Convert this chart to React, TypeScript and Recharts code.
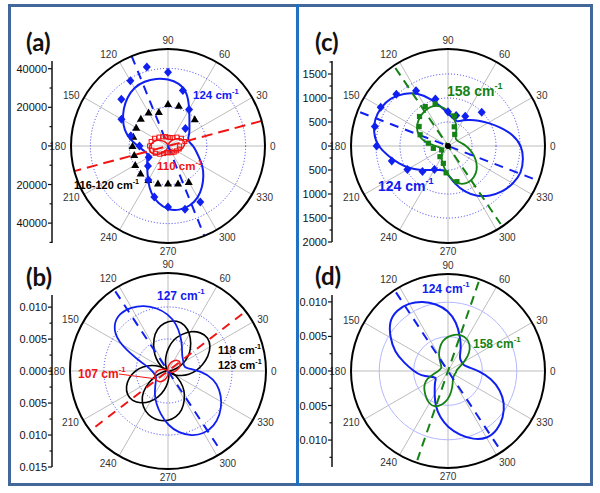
import React from "react";
import {
  RadarChart, Radar, PolarGrid, PolarAngleAxis, PolarRadiusAxis, Curve,
  LineChart, XAxis, YAxis,
} from "recharts";

// eslint-disable-next-line @typescript-eslint/no-explicit-any
type Any = any;

const FONT = '"Liberation Sans", Arial, sans-serif';
const BLUE = "#1020f0";
const RED = "#f01414";
const GREEN = "#148214";
const BLACK = "#000000";

const FIT_ANGLES = [0, 10, 20, 30, 40, 50, 60, 70, 80, 90, 100, 110, 120, 130, 140, 150, 160, 170,
  180, 190, 200, 210, 220, 230, 240, 250, 260, 270, 280, 290, 300, 310, 320, 330, 340, 350];
const SPOKE_ANGLES = [0, 30, 60, 90, 120, 150, 180, 210, 240, 270, 300, 330];

// ---- panel (a) ----
const A_BLUE_FIT = [13000, 11200, 10800, 12800, 14400, 17200, 22000, 29300, 33000, 34500, 35400, 35500,
  35000, 32700, 30000, 27000, 24000, 20000, 15500, 13000, 11000, 12400, 14000, 16600,
  20700, 26000, 30000, 33000, 33700, 33000, 31000, 27600, 24000, 20700, 17000, 14700];
const A_RED_FIT = [8300, 9000, 8600, 7500, 6000, 4400, 2900, 1800, 1000, 800, 800, 1200,
  2000, 3200, 4600, 6000, 7400, 8500, 9500, 10000, 9600, 8500, 6800, 5000,
  3400, 2000, 1200, 800, 800, 1000, 1600, 2600, 3800, 5200, 6500, 7600];
const A_DIAMOND_ANGLES = [45, 60, 75, 90, 105, 120, 135, 150, 165, 180, 210, 225, 240, 255, 270, 285, 300];
const A_DIAMONDS = [12700, 21700, 29600, 38000, 42200, 38800, 34000, 27700, 19900, 14700, 11500, 14600,
  20200, 27200, 31400, 33800, 33300];
const A_TRIANGLE_ANGLES = [45, 75, 90, 105, 120, 135, 150, 165, 180, 195, 210, 225, 240, 255, 270, 285, 300];
const A_TRIANGLES = [19500, 21500, 21600, 18200, 20000, 19800, 18900, 18500, 18300, 18000, 19500, 20000,
  20300, 20000, 19300, 20000, 21400];
const A_SQUARE_ANGLES = [0, 15, 30, 45, 60, 75, 90, 105, 120, 135, 150, 165, 180, 195, 210, 225, 240, 255,
  270, 285, 300, 315, 330, 345];
const A_RED_SQUARES = [6000, 9000, 8000, 6500, 5000, 4500, 4500, 5000, 5500, 6500, 8000, 9000,
  9500, 8500, 7500, 6000, 4500, 3500, 3500, 3500, 4000, 4500, 5000, 6000];
const A_BLUE_AXIS = [112, 292];
const A_RED_AXIS = [15, 195];
const A_AXIS_R = [50000, 50000];
const A_RINGS = [20000, 40000];
const A_SCALE_DOMAIN = [-50300, 44000];
const A_SCALE_TICKS = [-50000, -40000, -30000, -20000, -10000, 0, 10000, 20000, 30000, 40000];
const A_SCALE_LABELS = [-40000, -20000, 0, 20000, 40000];

// ---- panel (b) ----
const B_BLUE_FIT = [0.0052, 0.0027, 0.0026, 0.0028, 0.0030, 0.0034, 0.0044, 0.0058, 0.0075, 0.0089, 0.0100, 0.0109,
  0.0115, 0.0118, 0.0112, 0.0092, 0.0050, 0.0030, 0.0025, 0.0022, 0.0021, 0.0021, 0.0025, 0.0031,
  0.0042, 0.0054, 0.0068, 0.0085, 0.0098, 0.0108, 0.0113, 0.0112, 0.0106, 0.0097, 0.0086, 0.0073];
const B_BLACK_118 = [0.0003, 0.0009, 0.0020, 0.0032, 0.0045, 0.0056, 0.0068, 0.0077, 0.0080, 0.0078, 0.0072, 0.0062,
  0.0046, 0.0033, 0.0020, 0.0010, 0.0004, 0.0002, 0.0003, 0.0009, 0.0020, 0.0034, 0.0052, 0.0064,
  0.0072, 0.0077, 0.0079, 0.0078, 0.0073, 0.0065, 0.0052, 0.0040, 0.0026, 0.0014, 0.0006, 0.0002];
const B_BLACK_123 = [0.0044, 0.0055, 0.0067, 0.0077, 0.0082, 0.0079, 0.0072, 0.0061, 0.0050, 0.0036, 0.0022, 0.0012,
  0.0005, 0.0002, 0.0006, 0.0015, 0.0027, 0.0040, 0.0052, 0.0062, 0.0070, 0.0074, 0.0073, 0.0066,
  0.0056, 0.0044, 0.0030, 0.0018, 0.0009, 0.0003, 0.0001, 0.0002, 0.0006, 0.0013, 0.0022, 0.0033];
const B_RED_FIT = [0.0012, 0.0016, 0.0020, 0.0022, 0.0024, 0.0022, 0.0019, 0.0015, 0.0010, 0.0006, 0.0003, 0.0001,
  0.0001, 0.0001, 0.0002, 0.0005, 0.0009, 0.0013, 0.0017, 0.0020, 0.0022, 0.0024, 0.0023, 0.0022,
  0.0019, 0.0015, 0.0010, 0.0006, 0.0003, 0.0001, 0.0001, 0.0001, 0.0002, 0.0004, 0.0007, 0.0009];
const B_BLUE_AXIS = [123.5, 303.5];
const B_RED_AXIS = [37.5, 217.5];
const B_BLUE_AXIS_R = [0.0149, 0.0149];
const B_RED_AXIS_R = [0.0146, 0.0146];
const B_RINGS = [0.005, 0.01];
const B_SCALE_DOMAIN = [-0.015, 0.0119];
const B_SCALE_TICKS = [-0.015, -0.0125, -0.01, -0.0075, -0.005, -0.0025, 0, 0.0025, 0.005, 0.0075, 0.01];
const B_SCALE_LABELS = [-0.015, -0.01, -0.005, 0, 0.005, 0.01];

// ---- panel (c) ----
const C_BLUE_FIT = [1540, 1375, 1155, 965, 826, 708, 625, 530, 585, 680, 830, 1045,
  1285, 1430, 1565, 1615, 1630, 1575, 1472, 1250, 1082, 925, 778, 653,
  577, 532, 505, 590, 800, 1015, 1215, 1360, 1485, 1570, 1630, 1595];
const C_GREEN_FIT = [380, 300, 250, 225, 215, 240, 350, 500, 625, 740, 850, 895,
  890, 860, 815, 760, 655, 510, 260, 170, 140, 130, 150, 200,
  270, 360, 460, 605, 770, 855, 875, 850, 790, 690, 580, 470];
const C_DIAMOND_ANGLES = [45, 60, 75, 90, 105, 120, 135, 150, 165, 180, 195, 210, 225, 240];
const C_DIAMONDS = [993, 718, 657, 715, 1014, 1331, 1521, 1618, 1577, 1485, 1212, 977, 751, 566];
const C_SQUARE_ANGLES = [60, 72, 78, 107, 120, 134, 146, 158, 172, 189, 212, 233, 255, 266, 284];
const C_GREEN_SQUARES = [280, 420, 640, 916, 948, 854, 726, 626, 414, 309, 156, 278, 374, 560, 765];
const C_ORIGIN_ANGLE = [0];
const C_ORIGIN = [0];
const C_BLUE_AXIS = [159, 339];
const C_GREEN_AXIS = [124, 304];
const C_AXIS_R = [1960, 1960];
const C_RINGS = [500, 1000, 1500];
const C_SCALE_DOMAIN = [-2000, 1771];
const C_SCALE_TICKS = [-2000, -1750, -1500, -1250, -1000, -750, -500, -250, 0, 250, 500, 750, 1000, 1250, 1500, 1750];
const C_SCALE_LABELS = [-2000, -1500, -1000, -500, 0, 500, 1000, 1500];

// ---- panel (d) ----
const D_BLUE_FIT = [0.0045, 0.0031, 0.0024, 0.0024, 0.0024, 0.0026, 0.0038, 0.0052, 0.0072, 0.0088, 0.0099, 0.0108,
  0.0114, 0.0116, 0.0112, 0.0097, 0.0083, 0.0064, 0.0050, 0.0040, 0.0025, 0.0019, 0.0025, 0.0030,
  0.0039, 0.0054, 0.0068, 0.0082, 0.0094, 0.0106, 0.0114, 0.0112, 0.0105, 0.0095, 0.0081, 0.0064];
const D_GREEN_FIT = [0.0012, 0.0014, 0.0018, 0.0028, 0.0041, 0.0050, 0.0055, 0.0056, 0.0054, 0.0050, 0.0045, 0.0036,
  0.0027, 0.0018, 0.0013, 0.0011, 0.0011, 0.0012, 0.0014, 0.0020, 0.0033, 0.0040, 0.0045, 0.0050,
  0.0055, 0.0056, 0.0050, 0.0042, 0.0030, 0.0020, 0.0014, 0.0012, 0.0011, 0.0011, 0.0011, 0.0012];
const D_BLUE_AXIS = [123.5, 303.5];
const D_GREEN_AXIS = [71, 251];
const D_AXIS_R = [0.0137, 0.0137];
const D_RINGS = [0.005, 0.01];
const D_SCALE_DOMAIN = [-0.0139, 0.011];
const D_SCALE_TICKS = [-0.0125, -0.01, -0.0075, -0.005, -0.0025, 0, 0.0025, 0.005, 0.0075, 0.01];
const D_SCALE_LABELS = [-0.01, -0.005, 0, 0.005, 0.01];

type Layer = {
  key: string;
  angles: number[];
  values: number[];
  color: string;
  kind: "fit" | "axis" | "mark";
  width?: number;
  dash?: string;
  mark?: "diamond" | "triangle" | "square" | "open" | "dot";
};

function buildRows(layers: Layer[]) {
  const map = new Map<number, Record<string, number>>();
  layers.forEach((l) => l.angles.forEach((a, i) => {
    const row = map.get(a) ?? { angle: a };
    row[l.key] = l.values[i];
    map.set(a, row);
  }));
  return [...map.values()].sort((p, q) => p.angle - q.angle);
}

// a point belongs to the series only if its row carries a value for that key
const hasValue = (q: Any, key: string) => {
  const row = q?.payload?.payload ?? q?.payload;
  if (row && typeof row === "object" && "angle" in row) return row[key] != null;
  return q?.value != null;
};

function markRenderer(kind: Layer["mark"], color: string, key: string) {
  return (p: Any) => {
    if (!hasValue(p, key) || !Number.isFinite(p.cx) || !Number.isFinite(p.cy)) return <g />;
    const { cx, cy } = p;
    if (kind === "diamond")
      return <path d={`M${cx},${cy - 4.5}L${cx + 4},${cy}L${cx},${cy + 4.5}L${cx - 4},${cy}Z`} fill={color} />;
    if (kind === "triangle")
      return <path d={`M${cx},${cy - 4}L${cx + 4},${cy + 3}L${cx - 4},${cy + 3}Z`} fill={color} />;
    if (kind === "square")
      return <rect x={cx - 2.6} y={cy - 2.6} width={5.2} height={5.2} fill={color} />;
    if (kind === "open")
      return <rect x={cx - 2} y={cy - 2} width={4} height={4} fill="none" stroke={color} strokeWidth={1} />;
    return <circle cx={cx} cy={cy} r={3} fill={color} />;
  };
}

function SeriesPath({ points, keyName, color, width, dash, closed }: {
  points: Any[]; keyName: string; color: string; width: number; dash?: string; closed: boolean;
}) {
  const pts = (points ?? [])
    .filter((q: Any) => hasValue(q, keyName) && Number.isFinite(q.x) && Number.isFinite(q.y))
    .map((q: Any) => ({ x: q.x, y: q.y }));
  if (closed)
    return <Curve type="basisClosed" points={pts} fill="none" stroke={color} strokeWidth={width} />;
  const d = pts.map((q: Any, i: number) => `${i ? "L" : "M"}${q.x},${q.y}`).join("");
  return <path d={d} fill="none" stroke={color} strokeWidth={width} strokeDasharray={dash} />;
}

function PolarPanel({ cx, cy, R, max, rings, ringColor, ringDash, layers }: {
  cx: number; cy: number; R: number; max: number; rings: number[];
  ringColor: string; ringDash?: string; layers: Layer[];
}) {
  const rows = buildRows(layers);
  return (
    <div style={{ position: "absolute", left: cx - 150, top: cy - 130 }}>
      <RadarChart width={300} height={260} cx={150} cy={130} outerRadius={R} startAngle={0} endAngle={360}
        data={rows} margin={{ top: 0, right: 0, bottom: 0, left: 0 }}>
        <PolarGrid gridType="circle" polarRadius={[]} stroke="#bdbdbd" strokeWidth={1} />
        <PolarGrid gridType="circle" radialLines={false} stroke={ringColor} strokeDasharray={ringDash} strokeWidth={1} />
        <PolarAngleAxis type="number" dataKey="angle" domain={[0, 360]} allowDataOverflow
          ticks={SPOKE_ANGLES} tickCount={13} tickFormatter={(v: number) => (v === 360 ? "" : String(v))}
          tickLine={false} tickSize={5} axisLineType="circle" axisLine={{ stroke: "#000", strokeWidth: 2 }}
          tick={{ fontSize: 10, fill: "#333", fontFamily: FONT }} />
        <PolarRadiusAxis type="number" domain={[0, max]} allowDataOverflow ticks={rings}
          tick={false} axisLine={false} />
        {layers.map((l) => {
          if (l.kind === "mark")
            return <Radar key={l.key} dataKey={l.key} stroke="none" fill="none" dot={markRenderer(l.mark, l.color, l.key)}
              activeDot={false} isAnimationActive={false}
              shape={() => <g />} />;
          return <Radar key={l.key} dataKey={l.key} fill="none" dot={false} activeDot={false}
            isAnimationActive={false}
            shape={(p: Any) => (
              <SeriesPath points={p.points} keyName={l.key} color={l.color}
                width={l.width ?? 2} dash={l.dash} closed={l.kind === "fit"} />
            )} />;
        })}
      </RadarChart>
    </div>
  );
}

function ScaleStrip({ x, top, bottom, domain, ticks, labels, fmt }: {
  x: number; top: number; bottom: number; domain: number[]; ticks: number[]; labels: number[];
  fmt: (v: number) => string;
}) {
  const W = 60;
  const pad = 8;
  const h = bottom - top;
  const isMajor = (v: number) => labels.some((m) => Math.abs(m - v) < 1e-9);
  return (
    <div style={{ position: "absolute", left: x - W, top: top - pad }}>
      <LineChart width={W + 6} height={h + 2 * pad} data={[{ k: 0 }]} margin={{ top: pad, right: 0, bottom: pad, left: 0 }}>
        <XAxis dataKey="k" hide />
        <YAxis type="number" domain={domain} allowDataOverflow ticks={ticks}
          interval={0} width={W} tickSize={0} tickMargin={0} tickLine={false}
          axisLine={{ stroke: "#111", strokeWidth: 1.5 }}
          tick={(p: Any) => {
            const major = isMajor(p.payload.value);
            return (
              <g>
                <line x1={p.x - (major ? 4 : 2.5)} x2={p.x} y1={p.y} y2={p.y} stroke="#111" strokeWidth={1.2} />
                {major && (
                  <text x={p.x - 5} y={p.y + 4} textAnchor="end" fontSize={11} fontFamily={FONT} fill="#111">
                    {fmt(p.payload.value)}
                  </text>
                )}
              </g>
            );
          }} />
      </LineChart>
    </div>
  );
}

function Tag({ x, y, size, color, text }: { x: number; y: number; size: number; color: string; text: string }) {
  return (
    <div style={{
      position: "absolute", left: x, top: y - size * 0.6, fontFamily: FONT, fontWeight: 700,
      fontSize: size, color, lineHeight: `${size}px`, whiteSpace: "nowrap",
    }}>
      {text} cm<span style={{ fontSize: size * 0.65, position: "relative", top: -size * 0.45 }}>-1</span>
    </div>
  );
}

function Letter({ x, y, text }: { x: number; y: number; text: string }) {
  return (
    <div style={{
      position: "absolute", left: x, top: y, fontFamily: "Lato, sans-serif", fontWeight: 700,
      fontSize: 24, lineHeight: "24px", color: "#111",
    }}>{text}</div>
  );
}

const absFmt = (v: number) => String(Math.abs(v));
const decFmt = (v: number) => Math.abs(v).toFixed(3);

export default function App() {
  const panelA: Layer[] = [
    { key: "blueFit", angles: FIT_ANGLES, values: A_BLUE_FIT, color: BLUE, kind: "fit", width: 2 },
    { key: "redFit", angles: FIT_ANGLES, values: A_RED_FIT, color: RED, kind: "fit", width: 1.5 },
    { key: "blueAxis", angles: A_BLUE_AXIS, values: A_AXIS_R, color: BLUE, kind: "axis", dash: "9 7" },
    { key: "redAxis", angles: A_RED_AXIS, values: A_AXIS_R, color: RED, kind: "axis", dash: "11 6" },
    { key: "tri", angles: A_TRIANGLE_ANGLES, values: A_TRIANGLES, color: BLACK, kind: "mark", mark: "triangle" },
    { key: "sq", angles: A_SQUARE_ANGLES, values: A_RED_SQUARES, color: RED, kind: "mark", mark: "open" },
    { key: "dia", angles: A_DIAMOND_ANGLES, values: A_DIAMONDS, color: BLUE, kind: "mark", mark: "diamond" },
  ];
  const panelB: Layer[] = [
    { key: "blk118", angles: FIT_ANGLES, values: B_BLACK_118, color: BLACK, kind: "fit", width: 1.6 },
    { key: "blk123", angles: FIT_ANGLES, values: B_BLACK_123, color: BLACK, kind: "fit", width: 1.6 },
    { key: "blueFit", angles: FIT_ANGLES, values: B_BLUE_FIT, color: BLUE, kind: "fit", width: 1.8 },
    { key: "redFit", angles: FIT_ANGLES, values: B_RED_FIT, color: RED, kind: "fit", width: 1.5 },
    { key: "blueAxis", angles: B_BLUE_AXIS, values: B_BLUE_AXIS_R, color: BLUE, kind: "axis", dash: "9 7" },
    { key: "redAxis", angles: B_RED_AXIS, values: B_RED_AXIS_R, color: RED, kind: "axis", dash: "9 7" },
  ];
  const panelC: Layer[] = [
    { key: "blueFit", angles: FIT_ANGLES, values: C_BLUE_FIT, color: BLUE, kind: "fit", width: 2 },
    { key: "greenFit", angles: FIT_ANGLES, values: C_GREEN_FIT, color: GREEN, kind: "fit", width: 1.8 },
    { key: "blueAxis", angles: C_BLUE_AXIS, values: C_AXIS_R, color: BLUE, kind: "axis", dash: "9 7" },
    { key: "greenAxis", angles: C_GREEN_AXIS, values: C_AXIS_R, color: GREEN, kind: "axis", dash: "9 6" },
    { key: "dia", angles: C_DIAMOND_ANGLES, values: C_DIAMONDS, color: BLUE, kind: "mark", mark: "diamond" },
    { key: "sq", angles: C_SQUARE_ANGLES, values: C_GREEN_SQUARES, color: GREEN, kind: "mark", mark: "square" },
    { key: "origin", angles: C_ORIGIN_ANGLE, values: C_ORIGIN, color: BLACK, kind: "mark", mark: "dot" },
  ];
  const panelD: Layer[] = [
    { key: "blueFit", angles: FIT_ANGLES, values: D_BLUE_FIT, color: BLUE, kind: "fit", width: 2 },
    { key: "greenFit", angles: FIT_ANGLES, values: D_GREEN_FIT, color: GREEN, kind: "fit", width: 1.8 },
    { key: "blueAxis", angles: D_BLUE_AXIS, values: D_AXIS_R, color: BLUE, kind: "axis", dash: "9 7" },
    { key: "greenAxis", angles: D_GREEN_AXIS, values: D_AXIS_R, color: GREEN, kind: "axis", dash: "9 6" },
  ];

  return (
    <div style={{ position: "absolute", left: 0, top: 0, width: 600, height: 493, background: "#fff", overflow: "hidden" }}>
      <PolarPanel cx={168} cy={146} R={97} max={50000} rings={A_RINGS} ringColor="#3a3af5" ringDash="1 2" layers={panelA} />
      <PolarPanel cx={168} cy={371} R={98} max={0.0153} rings={B_RINGS} ringColor="#3a3af5" ringDash="1 2" layers={panelB} />
      <PolarPanel cx={448} cy={146} R={97} max={2020} rings={C_RINGS} ringColor="#3a3af5" ringDash="1 2" layers={panelC} />
      <PolarPanel cx={448} cy={371} R={97} max={0.0141} rings={D_RINGS} ringColor="#b4b8ff" layers={panelD} />

      <ScaleStrip x={52} top={61} bottom={243} domain={A_SCALE_DOMAIN} ticks={A_SCALE_TICKS} labels={A_SCALE_LABELS} fmt={absFmt} />
      <ScaleStrip x={52} top={295} bottom={467} domain={B_SCALE_DOMAIN} ticks={B_SCALE_TICKS} labels={B_SCALE_LABELS} fmt={decFmt} />
      <ScaleStrip x={332} top={61} bottom={242} domain={C_SCALE_DOMAIN} ticks={C_SCALE_TICKS} labels={C_SCALE_LABELS} fmt={absFmt} />
      <ScaleStrip x={332} top={295} bottom={467} domain={D_SCALE_DOMAIN} ticks={D_SCALE_TICKS} labels={D_SCALE_LABELS} fmt={decFmt} />

      <Tag x={193} y={97} size={11.5} color={BLUE} text="124" />
      <Tag x={157} y={168} size={11.5} color={RED} text="110" />
      <Tag x={74} y={187} size={11} color={BLACK} text="116-120" />
      <Tag x={157} y={297} size={12} color={BLUE} text="127" />
      <Tag x={78} y={375} size={12} color={RED} text="107" />
      <Tag x={218} y={352} size={11} color={BLACK} text="118" />
      <Tag x={218} y={367} size={11} color={BLACK} text="123" />
      <Tag x={447} y={92} size={14} color={GREEN} text="158" />
      <Tag x={378} y={187} size={14} color={BLUE} text="124" />
      <Tag x={422} y={290} size={12} color={BLUE} text="124" />
      <Tag x={473} y={345} size={12} color={GREEN} text="158" />

      <svg width={600} height={493} style={{ position: "absolute", left: 0, top: 0 }}>
        <line x1={119} y1={374} x2={157} y2={379} stroke={RED} strokeWidth={1} />
      </svg>

      <Letter x={26} y={30} text="(a)" />
      <Letter x={26} y={265} text="(b)" />
      <Letter x={315} y={30} text="(c)" />
      <Letter x={315} y={264} text="(d)" />

      <div style={{ position: "absolute", left: 8, top: 4, width: 585, height: 482, border: "3px solid #41679b", boxSizing: "border-box" }} />
      <div style={{ position: "absolute", left: 296, top: 4, width: 3, height: 482, background: "#1f72c2" }} />
    </div>
  );
}
